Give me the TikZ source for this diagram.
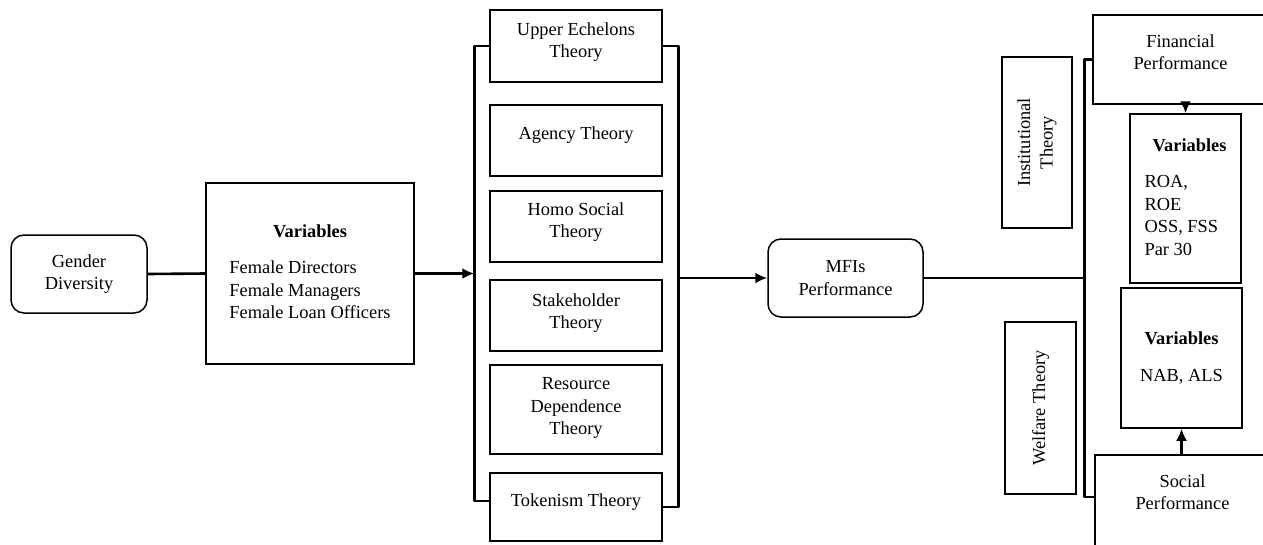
\documentclass[tikz,border=0pt]{standalone}
\usepackage{fontspec}
\setmainfont{Liberation Serif}
\usetikzlibrary{positioning,arrows.meta}

\begin{document}
\begin{tikzpicture}[x=1pt, y=-1pt, >={Latex[length=12pt,width=11pt]},
    every node/.style={font=\fontsize{18.4}{22.5}\selectfont},
    box/.style={draw, line width=1.5pt, align=center, inner sep=0pt},
    roundbox/.style={box, rounded corners=13pt},
    theory/.style={box, minimum width=172pt},
    tlabel/.style={anchor=north, align=center, inner sep=0pt},
    link/.style={line width=2.6pt, line join=round}]
    \useasboundingbox (0,0) rectangle (1263,544);

    % left part
    \node [roundbox, minimum width=136pt, minimum height=78pt] (gender) at (79,274) {Gender\\Diversity};
    \node [box, minimum width=208pt, minimum height=181pt] (vars) at (310,273.5) {\begin{tabular}{@{}l@{}}\multicolumn{1}{@{}c@{}}{\textbf{Variables}}\\[14pt] Female Directors\\ Female Managers\\ Female Loan Officers\end{tabular}};

    % theories
    \node [theory, minimum height=72pt, label={[tlabel, yshift=-13pt]north:Upper Echelons\\Theory}] (upper) at (576,46) {};
    \node [theory, minimum height=71pt, below=21.5pt of upper, label={[tlabel, yshift=-22pt]north:Agency Theory}] (agency) {};
    \node [theory, minimum height=71pt, below=13.5pt of agency, label={[tlabel, yshift=-12pt]north:Homo Social\\Theory}] (homo) {};
    \node [theory, minimum height=71pt, below=16.5pt of homo, label={[tlabel, yshift=-14pt]north:Stakeholder\\Theory}] (stake) {};
    \node [theory, minimum height=89pt, below=12.5pt of stake, label={[tlabel, yshift=-13pt]north:Resource\\Dependence\\Theory}] (resource) {};
    \node [theory, minimum height=68pt, below=17.5pt of resource, label={[tlabel, yshift=-21pt]north:Tokenism Theory}] (token) {};

    \node [roundbox, minimum width=155pt, minimum height=78pt] (mfi) at (845.5,278) {MFIs\\Performance};

    % right part
    \node [box, rotate=90, minimum width=171pt, minimum height=70pt] (inst) at (1037,142.5) {Institutional\\Theory};
    \node [box, rotate=90, minimum width=172pt, minimum height=71pt] (welfare) at (1040.5,408) {Welfare Theory};
    \node [box, minimum width=175pt, minimum height=89pt, label={[tlabel, yshift=-20pt]north:Financial\\Performance}] (fin) at (1180.5,59.5) {};
    \node [box, minimum width=111pt, minimum height=169pt] (finvars) at (1185.5,198.5) {\begin{tabular}{@{}l@{}}\hspace*{8pt}\textbf{Variables}\\[14pt] ROA,\\ ROE\\ OSS, FSS\\ Par 30\end{tabular}};
    \node [box, minimum width=121pt, minimum height=140pt] (socvars) at (1181.5,358) {\textbf{Variables}\\[14pt]NAB, ALS};
    \node [box, minimum width=175pt, minimum height=110pt, label={[tlabel, yshift=-20pt]north:Social\\Performance}] (soc) at (1182.5,510) {};

    % connectors
    \draw [link] (gender.east) -- (vars.west);
    \draw [link] (upper.west) -- ++(-15,0) coordinate (lefttop) |- ([yshift=6pt]token.west);
    \draw [link] (upper.east) -- ++(16,0) coordinate (righttop) |- (token.east);
    \draw [link, ->] (vars.east) -- (vars.east -| lefttop);
    \draw [link, ->] (mfi.west -| righttop) -- (mfi.west);
    \draw [link] (fin.west) -- ++(-8,0) coordinate (spinetop) |- ([yshift=13pt]soc.west);
    \draw [link] (mfi.east) -- (mfi.east -| spinetop);
    \draw [link, ->] (finvars.north |- fin.south) -- (finvars.north);
    \draw [link, ->] (socvars.south |- soc.north) -- (socvars.south);
\end{tikzpicture}
\end{document}
